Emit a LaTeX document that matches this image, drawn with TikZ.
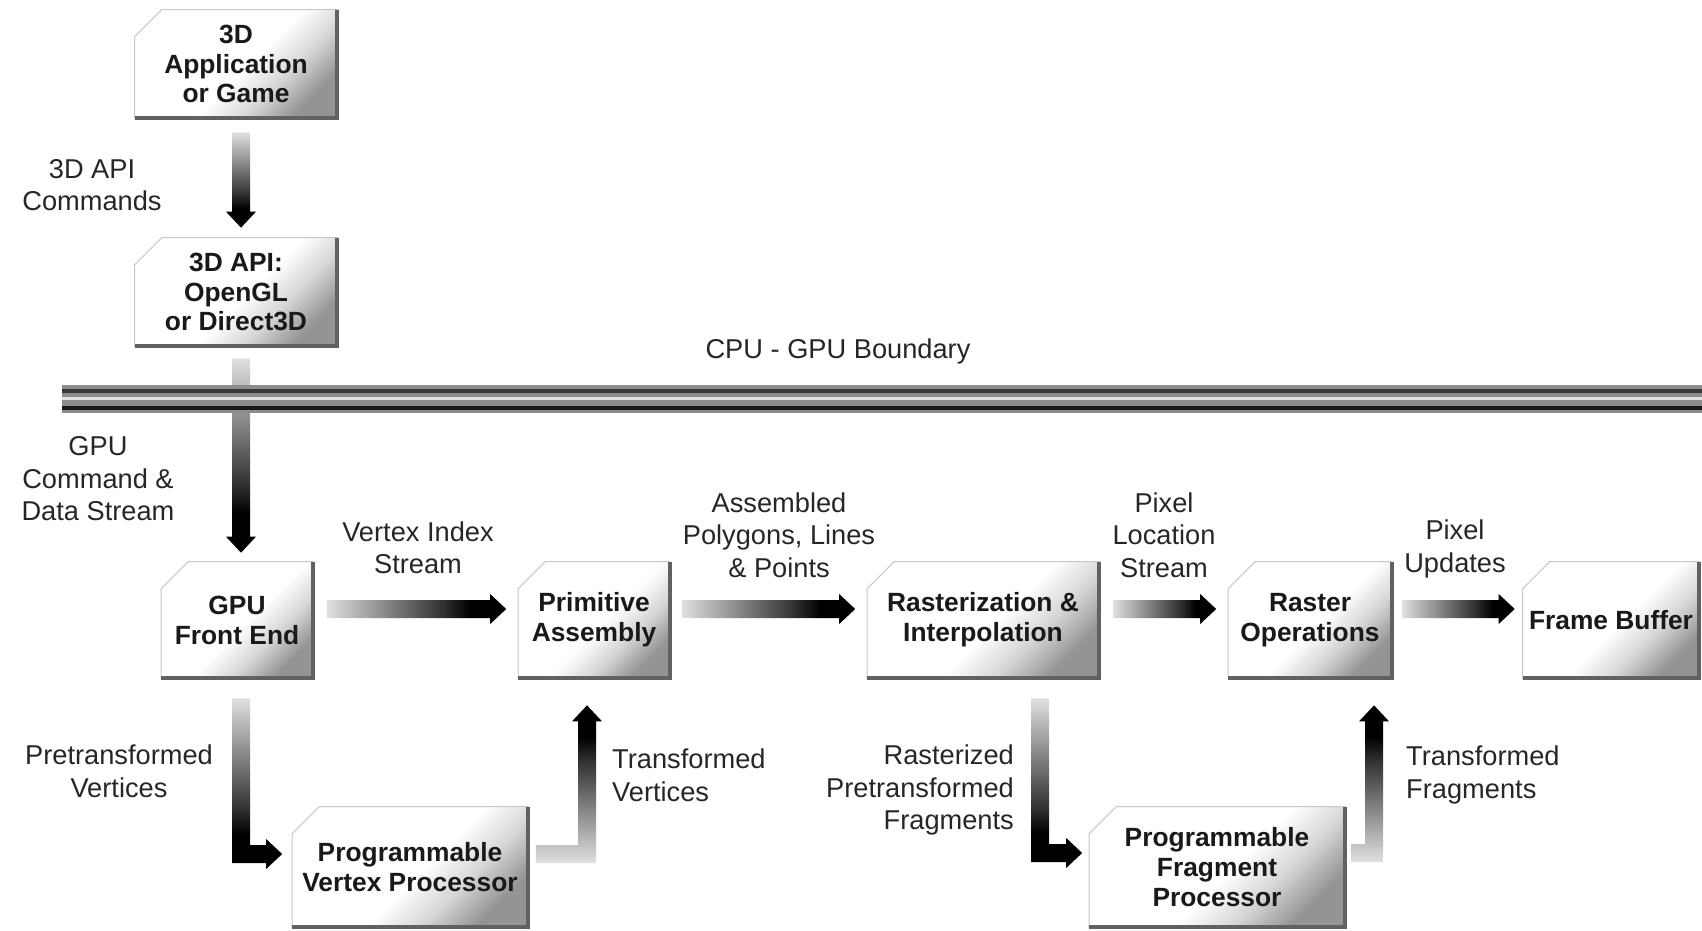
\documentclass[tikz,border=0pt]{standalone}
\usepackage{fontspec}
\setmainfont{Liberation Sans}
\usetikzlibrary{calc,backgrounds}

\pgfdeclarehorizontalshading{flowshade}{100bp}{color(0bp)=(black!12); color(25bp)=(black!12); color(57bp)=(black!80); color(65bp)=(black); color(100bp)=(black)}
\pgfdeclareverticalshading{faceshade}{100bp}{color(0bp)=(black!42); color(25bp)=(black!42); color(36bp)=(black!16); color(47bp)=(white); color(100bp)=(white)}

\begin{document}
\begin{tikzpicture}[x=0.02cm,y=-0.02cm,
    stage/.style={inner sep=2pt,align=center,text=black!90,
                  font=\fontsize{15}{17}\selectfont\bfseries},
    face/.style={shade,shading=faceshade,shading angle=45,
                 draw=black!22,line width=0.6pt},
    rim/.style={draw=black!62,line width=0.08cm},
    note/.style={font=\fontsize{15.5}{18.5}\selectfont,align=center,text=black!85},
    flow/.style={shading=flowshade},
    rarrow/.style={flow,shading angle=0,to path={let \p1=(\tikztostart),\p2=(\tikztotarget) in
        (\x1,\y1+0.18cm) -- (\x2-0.32cm,\y1+0.18cm) -- (\x2-0.32cm,\y1+0.3cm) -- (\x2,\y1)
        -- (\x2-0.32cm,\y1-0.3cm) -- (\x2-0.32cm,\y1-0.18cm) -- (\x1,\y1-0.18cm) -- cycle}},
    darrow/.style={flow,shading angle=-90,to path={let \p1=(\tikztostart),\p2=(\tikztotarget) in
        (\x1-0.18cm,\y1) -- (\x1-0.18cm,\y2+0.32cm) -- (\x1-0.3cm,\y2+0.32cm) -- (\x1,\y2)
        -- (\x1+0.3cm,\y2+0.32cm) -- (\x1+0.18cm,\y2+0.32cm) -- (\x1+0.18cm,\y1) -- cycle}},
    drarrow/.style={flow,shading angle=-90,to path={let \p1=(\tikztostart),\p2=(\tikztotarget) in
        (\x1-0.18cm,\y1) -- (\x1-0.18cm,\y2-0.18cm) -- (\x2-0.32cm,\y2-0.18cm)
        -- (\x2-0.32cm,\y2-0.3cm) -- (\x2,\y2) -- (\x2-0.32cm,\y2+0.3cm)
        -- (\x2-0.32cm,\y2+0.18cm) -- (\x1+0.18cm,\y2+0.18cm) -- (\x1+0.18cm,\y1) -- cycle}},
    ruarrow/.style={flow,shading angle=90,to path={let \p1=(\tikztostart),\p2=(\tikztotarget) in
        (\x1,\y1-0.18cm) -- (\x2+0.18cm,\y1-0.18cm) -- (\x2+0.18cm,\y2-0.32cm)
        -- (\x2+0.3cm,\y2-0.32cm) -- (\x2,\y2) -- (\x2-0.3cm,\y2-0.32cm)
        -- (\x2-0.18cm,\y2-0.32cm) -- (\x2-0.18cm,\y1+0.18cm) -- (\x1,\y1+0.18cm) -- cycle}},
]
\useasboundingbox (0,0) rectangle (1702,930);

% CPU side
\node[stage,minimum width=4.04cm,minimum height=2.16cm] (app) at (236,64)  {3D\\Application\\or Game};
\node[stage,minimum width=4.04cm,minimum height=2.16cm] (api) at (236,292) {3D API:\\OpenGL\\or Direct3D};

% GPU pipeline, main row
\node[stage,minimum width=3.02cm,minimum height=2.32cm] (gfe) at (237,620)  {GPU\\Front End};
\node[stage,minimum width=3.02cm,minimum height=2.32cm] (pa)  at (594,620)  {Primitive\\Assembly};
\node[stage,minimum width=4.62cm,minimum height=2.32cm] (ri)  at (983,620)  {Rasterization \&\\Interpolation};
\node[stage,minimum width=3.26cm,minimum height=2.32cm] (ro)  at (1310,620) {Raster\\Operations};
\node[stage,minimum width=3.52cm,minimum height=2.32cm] (fb)  at (1611,620) {Frame Buffer};

% programmable units
\node[stage,minimum width=4.7cm,minimum height=2.4cm] (pvp) at (410,867)  {Programmable\\Vertex Processor};
\node[stage,minimum width=5.1cm,minimum height=2.4cm] (pfp) at (1217,867) {Programmable\\Fragment\\Processor};

% box faces with clipped corner and dark rim
\begin{scope}[on background layer]
\foreach \n in {app,api,gfe,pa,ri,ro,fb,pvp,pfp}{
  \path[face] ($(\n.north west)+(0,27)$) -- ($(\n.north west)+(27,0)$)
              -- (\n.north east) -- (\n.south east) -- (\n.south west) -- cycle;
  \draw[rim] (\n.north east) -- (\n.south east) -- (\n.south west);
}
\end{scope}

% connectors
\shade[darrow]  ($(app.south)+(5,14)$)  to ($(api.north)+(5,-10)$);
\shade[darrow]  ($(api.south)+(5,12)$)  to ($(gfe.north)+(4,-9)$);
\shade[rarrow]  ($(gfe.east)+(14,-11)$) to ($(pa.west)+(-12,-11)$);
\shade[rarrow]  ($(pa.east)+(12,-11)$)  to ($(ri.west)+(-12,-11)$);
\shade[rarrow]  ($(ri.east)+(14,-11)$)  to ($(ro.west)+(-12,-11)$);
\shade[rarrow]  ($(ro.east)+(10,-11)$)  to ($(fb.west)+(-8,-11)$);
\shade[drarrow] ($(gfe.south)+(4,20)$)  to ($(pvp.west)+(-10,-13)$);
\shade[ruarrow] ($(pvp.east)+(8,-13)$)  to ($(pa.south)+(-7,27)$);
\shade[drarrow] ($(ri.south)+(57,20)$)  to ($(pfp.west)+(-7,-14)$);
\shade[ruarrow] ($(pfp.east)+(6,-14)$)  to ($(ro.south)+(64,27)$);

% CPU - GPU boundary
\fill[black!45] (62,385) rectangle (1702,413);
\fill[black!78] (62,389) rectangle (1702,393);
\fill[black!12] (62,397) rectangle (1702,400);
\fill[black!90] (62,406) rectangle (1702,410);
\node[note] (bndlbl) at (838,351) {CPU - GPU Boundary};

% labels
\node[note] (cmdlbl)  at (92,185)   {3D API\\Commands};
\node[note] (gcdlbl)  at (98,479)   {GPU\\Command \&\\Data Stream};
\node[note] (vislbl)  at (418,548)  {Vertex Index\\Stream};
\node[note] (apllbl)  at (779,535)  {Assembled\\Polygons, Lines\\\& Points};
\node[note] (plslbl)  at (1164,535) {Pixel\\Location\\Stream};
\node[note] (pulbl)   at (1455,549) {Pixel\\Updates};
\node[note] (ptvlbl)  at (119,771)  {Pretransformed\\Vertices};
\node[note,anchor=west,align=left]  (tvlbl)  at (606,775)  {Transformed\\Vertices};
\node[note,anchor=east,align=right] (rpflbl) at (1020,790) {Rasterized\\Pretransformed\\Fragments};
\node[note,anchor=west,align=left]  (tflbl)  at (1400,775) {Transformed\\Fragments};

\end{tikzpicture}
\end{document}
